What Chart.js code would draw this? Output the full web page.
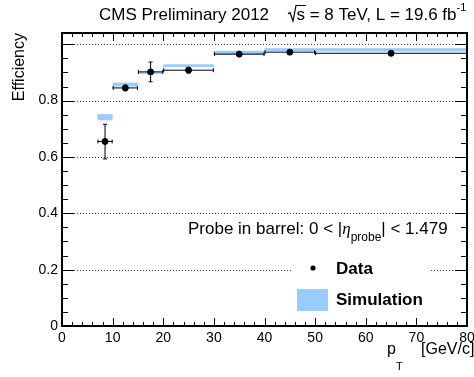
<!DOCTYPE html>
<html>
<head>
<meta charset="UTF-8">
<title>Efficiency vs pT</title>
<script src="https://cdn.jsdelivr.net/npm/chart.js"></script>
<style>
  html, body { margin: 0; padding: 0; background: #fff; }
  canvas { display: block; }
</style>
</head>
<body>
<canvas id="effChart" width="474" height="377"></canvas>
<script>
// pT bins (GeV/c)
const binLo = [7, 10, 15, 20, 30, 40, 50];
const binHi = [10, 15, 20, 30, 40, 50, 80];
// data efficiency and errors
const dataEff = [0.655, 0.845, 0.902, 0.908, 0.965, 0.972, 0.968];
const dataErrUp = [0.061, 0.010, 0.035, 0.010, 0.008, 0.006, 0.007];
const dataErrDn = [0.062, 0.010, 0.035, 0.010, 0.008, 0.006, 0.007];
// simulation efficiency and half-width of the band
const simEff = [0.741, 0.857, 0.898, 0.924, 0.970, 0.981, 0.980];
const simErr = [0.011, 0.007, 0.003, 0.005, 0.007, 0.005, 0.006];
// axis ticks
const xTicks = [0, 10, 20, 30, 40, 50, 60, 70, 80];
const yTicks = [0, 0.2, 0.4, 0.6, 0.8, 1.0];
const yLabels = ["0", "0.2", "0.4", "0.6", "0.8", ""];

const FONT = "'Liberation Sans', Arial, Helvetica, sans-serif";
const SIM_COLOR = "#99ccff";

const points = dataEff.map((v, i) => ({ x: (binLo[i] + binHi[i]) / 2, y: v }));

const cmsPlugin = {
  id: "cmsPlot",
  beforeDatasetsDraw(chart) {
    const ctx = chart.ctx;
    const xs = chart.scales.x, ys = chart.scales.y;
    const a = chart.chartArea;
    ctx.save();
    // dotted grid lines
    ctx.strokeStyle = "#444";
    ctx.lineWidth = 1;
    ctx.setLineDash([1, 2]);
    yTicks.forEach(v => {
      if (v === 0) return;
      const y = Math.round(ys.getPixelForValue(v)) + 0.5;
      ctx.beginPath();
      ctx.moveTo(a.left, y);
      ctx.lineTo(a.right, y);
      ctx.stroke();
    });
    ctx.setLineDash([]);
    // simulation bands
    ctx.fillStyle = SIM_COLOR;
    simEff.forEach((v, i) => {
      const x0 = xs.getPixelForValue(binLo[i]);
      const x1 = xs.getPixelForValue(binHi[i]);
      const y0 = ys.getPixelForValue(v + simErr[i]);
      const y1 = ys.getPixelForValue(v - simErr[i]);
      ctx.fillRect(x0, y0, x1 - x0, Math.max(y1 - y0, 1.5));
    });
    // data error bars
    ctx.strokeStyle = "#000";
    ctx.lineWidth = 1;
    dataEff.forEach((v, i) => {
      const x0 = xs.getPixelForValue(binLo[i]);
      const x1 = xs.getPixelForValue(binHi[i]);
      const xc = xs.getPixelForValue((binLo[i] + binHi[i]) / 2);
      const yc = ys.getPixelForValue(v);
      const yt = ys.getPixelForValue(v + dataErrUp[i]);
      const yb = ys.getPixelForValue(v - dataErrDn[i]);
      ctx.beginPath();
      ctx.moveTo(x0, yc); ctx.lineTo(x1, yc);
      ctx.moveTo(x0 + 0.5, yc - 2); ctx.lineTo(x0 + 0.5, yc + 2);
      ctx.moveTo(x1 - 0.5, yc - 2); ctx.lineTo(x1 - 0.5, yc + 2);
      ctx.moveTo(xc, yt); ctx.lineTo(xc, yb);
      ctx.moveTo(xc - 2, yt); ctx.lineTo(xc + 2, yt);
      ctx.moveTo(xc - 2, yb); ctx.lineTo(xc + 2, yb);
      ctx.stroke();
    });
    ctx.restore();
  },
  afterDatasetsDraw(chart) {
    const ctx = chart.ctx;
    const xs = chart.scales.x, ys = chart.scales.y;
    const a = chart.chartArea;
    ctx.save();
    ctx.strokeStyle = "#000";
    ctx.fillStyle = "#000";
    // ticks (both sides)
    ctx.lineWidth = 1;
    ctx.beginPath();
    for (let v = 0; v <= 80; v += 2) {
      const x = Math.round(xs.getPixelForValue(v)) + 0.5;
      const len = v % 10 === 0 ? 8 : 4;
      ctx.moveTo(x, a.bottom); ctx.lineTo(x, a.bottom - len);
      ctx.moveTo(x, a.top); ctx.lineTo(x, a.top + len);
    }
    for (let k = 0; k <= 20; k++) {
      const v = k * 0.05;
      const y = Math.round(ys.getPixelForValue(v)) + 0.5;
      const len = k % 4 === 0 ? 12 : 6;
      ctx.moveTo(a.left, y); ctx.lineTo(a.left + len, y);
      ctx.moveTo(a.right, y); ctx.lineTo(a.right - len, y);
    }
    ctx.stroke();
    // frame
    ctx.lineWidth = 2;
    ctx.strokeRect(a.left, a.top, a.right - a.left, a.bottom - a.top);

    // tick labels
    ctx.font = "14px " + FONT;
    ctx.textAlign = "right";
    ctx.textBaseline = "middle";
    yTicks.forEach((v, i) => {
      if (yLabels[i]) ctx.fillText(yLabels[i], a.left - 4, ys.getPixelForValue(v));
    });
    ctx.textAlign = "center";
    xTicks.forEach(v => ctx.fillText(String(v), xs.getPixelForValue(v), a.bottom + 12));

    // axis titles
    ctx.font = "16px " + FONT;
    ctx.textAlign = "left";
    ctx.textBaseline = "alphabetic";
    ctx.fillText("p", 387, 354);
    ctx.fillText("[GeV/c]", 421, 354);
    ctx.font = "11px " + FONT;
    ctx.fillText("T", 396, 370);

    ctx.save();
    ctx.translate(24, 33);
    ctx.rotate(-Math.PI / 2);
    ctx.font = "16px " + FONT;
    ctx.textAlign = "right";
    ctx.fillText("Efficiency", 0, 0);
    ctx.restore();

    // header
    ctx.font = "17px " + FONT;
    ctx.textAlign = "left";
    ctx.fillText("CMS Preliminary 2012", 99, 20);
    let x = 288;
    // radical sign
    ctx.lineWidth = 1.2;
    ctx.beginPath();
    ctx.moveTo(x, 14); ctx.lineTo(x + 2, 12.5); ctx.lineTo(x + 5, 21); ctx.lineTo(x + 8, 5.5);
    ctx.lineTo(x + 18, 5.5);
    ctx.stroke();
    x += 8.5;
    const rest = "s = 8 TeV, L = 19.6 fb";
    ctx.fillText(rest, x, 20);
    x += ctx.measureText(rest).width;
    ctx.font = "11px " + FONT;
    ctx.fillText("-1", x, 11);

    // legend region
    ctx.fillStyle = "#fff";
    ctx.fillRect(291, 252, 138, 66);
    ctx.fillStyle = "#000";
    ctx.font = "17px " + FONT;
    x = 188;
    const t1 = "Probe in barrel: 0 < |";
    ctx.fillText(t1, x, 234);
    x += ctx.measureText(t1).width;
    ctx.font = "italic 17px 'Liberation Serif', 'DejaVu Serif', serif";
    ctx.fillText("η", x, 234);
    x += ctx.measureText("η").width;
    ctx.font = "12px " + FONT;
    ctx.fillText("probe", x, 241);
    x += ctx.measureText("probe").width;
    ctx.font = "17px " + FONT;
    ctx.fillText("| < 1.479", x, 234);

    ctx.beginPath();
    ctx.arc(313, 268, 2.6, 0, Math.PI * 2);
    ctx.fill();
    ctx.font = "bold 17px " + FONT;
    ctx.fillText("Data", 336, 274);
    ctx.fillStyle = SIM_COLOR;
    ctx.fillRect(297, 289, 31, 22);
    ctx.fillStyle = "#000";
    ctx.fillText("Simulation", 336, 305);
    ctx.restore();
  }
};

new Chart(document.getElementById("effChart").getContext("2d"), {
  type: "scatter",
  data: {
    datasets: [{
      label: "Data",
      data: points,
      pointRadius: 3,
      pointBackgroundColor: "#000",
      pointBorderColor: "#000",
      showLine: false
    }]
  },
  options: {
    responsive: false,
    animation: false,
    layout: { padding: { left: 62, right: 7, top: 33, bottom: 51 } },
    plugins: { legend: { display: false }, tooltip: { enabled: false } },
    scales: {
      x: { type: "linear", min: 0, max: 80, display: false },
      y: { type: "linear", min: 0, max: 1.04, display: false }
    }
  },
  plugins: [cmsPlugin]
});
</script>
</body>
</html>
